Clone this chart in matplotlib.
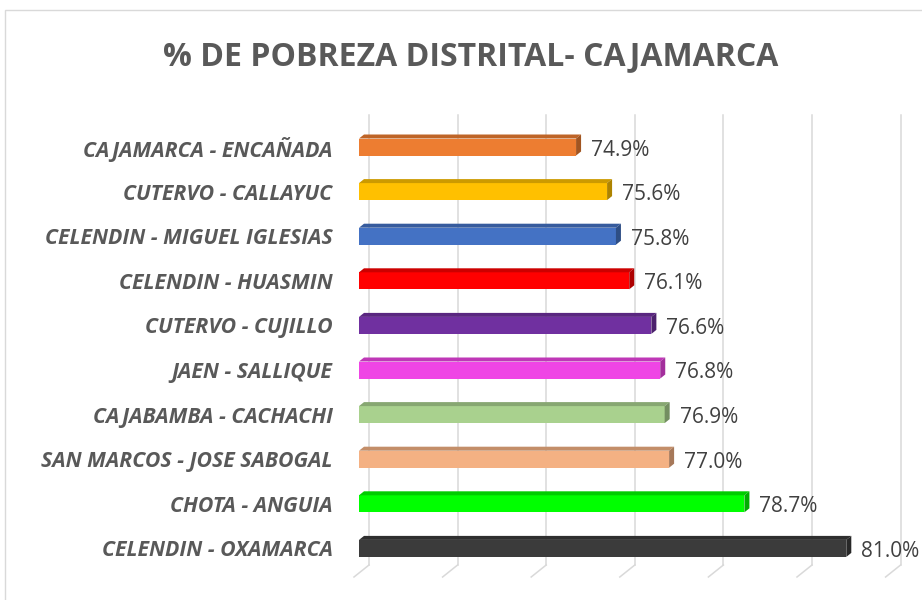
import matplotlib
matplotlib.use("Agg")
import matplotlib.pyplot as plt
from matplotlib.patches import Polygon, Rectangle
from matplotlib.colors import to_rgb

# datos (de arriba hacia abajo)
distritos = ['CAJAMARCA - ENCAÑADA', 'CUTERVO - CALLAYUC', 'CELENDIN - MIGUEL IGLESIAS',
             'CELENDIN - HUASMIN', 'CUTERVO - CUJILLO', 'JAEN - SALLIQUE',
             'CAJABAMBA - CACHACHI', 'SAN MARCOS - JOSE SABOGAL', 'CHOTA - ANGUIA',
             'CELENDIN - OXAMARCA']
pobreza = [74.9, 75.6, 75.8, 76.1, 76.6, 76.8, 76.9, 77.0, 78.7, 81.0]
colores = ['#ED7D31', '#FFC000', '#4472C4', '#FF0000', '#7030A0',
           '#EF45E5', '#A9D18E', '#F4B183', '#00FF00', '#3B3B3B']
grid_ticks = [70, 72, 74, 76, 78, 80, 82]

W, H = 922, 600
fig = plt.figure(figsize=(W / 100, H / 100), dpi=100)

# marco del grafico
fig.patches.append(Rectangle((5 / W, -0.1), 1.2, (H - 10) / H + 0.1,
                             transform=fig.transFigure, fill=False,
                             edgecolor='#D9D9D9', lw=1.0))

# ejes: x=70 en px 359, 44.3 px por unidad; categorias 44.6 px
px_x, px_y = 44.3, 44.6
x0, x1 = 70, 82
ax_left, ax_top = 359, 124.7
ax_w = (x1 - x0) * px_x
ax_h = len(distritos) * px_y
ax = fig.add_axes([ax_left / W, 1 - (ax_top + ax_h) / H, ax_w / W, ax_h / H])
ax.set_xlim(x0, x1)
ax.set_ylim(len(distritos) - 0.5, -0.5)
for s in ax.spines.values():
    s.set_visible(False)
ax.tick_params(left=False, bottom=False, labelbottom=False)

def ypx(p):
    return -0.5 + (p - ax_top) / px_y

# lineas de division (pared del fondo y piso)
back_dx = 10 / px_x
for g in grid_ticks:
    ax.plot([g + back_dx, g + back_dx], [ypx(115), ypx(565)], color='#D9D9D9',
             lw=1.1, zorder=1, clip_on=False)
    ax.plot([g + back_dx, g - 5 / px_x], [ypx(565), ypx(577)], color='#D9D9D9',
             lw=1.1, zorder=1, clip_on=False)

def oscuro(c, f):
    r, g, b = to_rgb(c)
    return (r * f, g * f, b * f)

h = 17 / px_y
dx, dy = 5 / px_x, 4 / px_y
ys = list(range(len(distritos)))
ax.barh(ys, [v - x0 for v in pobreza], left=x0, height=h, color=colores, zorder=3)
for y, v, c in zip(ys, pobreza, colores):
    top = y - h / 2
    bot = y + h / 2
    # cara superior y lateral (efecto 3D)
    ax.add_patch(Polygon([(x0, top), (v, top), (v + dx, top - dy), (x0 + dx, top - dy)],
                         closed=True, facecolor=oscuro(c, 0.8), edgecolor='none', zorder=3))
    ax.add_patch(Polygon([(v, top), (v + dx, top - dy), (v + dx, bot - dy), (v, bot)],
                         closed=True, facecolor=oscuro(c, 0.68), edgecolor='none', zorder=3))
    ax.text(v + 15 / px_x, y + 3 / px_y, f'{v:.1f}%', ha='left', va='center',
            fontsize=15, color='#404040', family='Open Sans', zorder=4)

ax.set_yticks(ys)
ax.set_yticklabels(distritos, fontsize=15.3, fontweight='bold', fontstyle='italic',
                   color='#595959', family='Open Sans')
ax.tick_params(axis='y', pad=15.5)

fig.text(471 / W, 1 - 57 / H, '% DE POBREZA DISTRITAL- CAJAMARCA', ha='center',
         va='center', fontsize=23, fontweight='bold', color='#595959', family='Open Sans')

fig.savefig('out.png', dpi=100)
